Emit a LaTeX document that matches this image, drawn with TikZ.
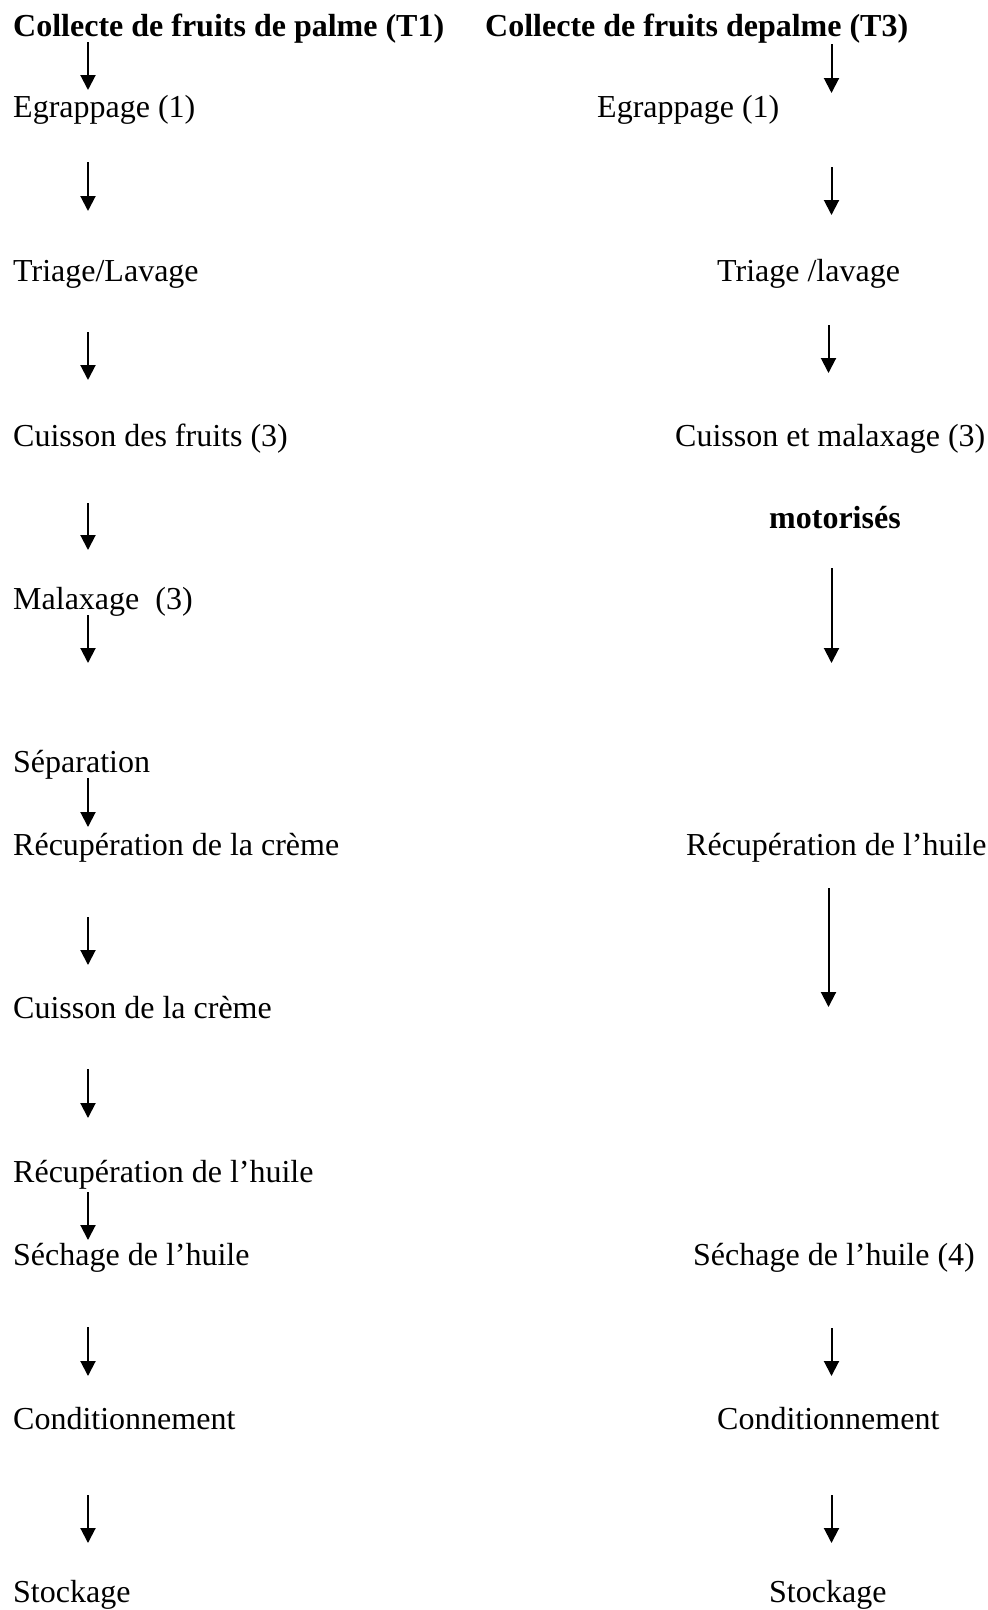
\documentclass[tikz,border=0pt]{standalone}
\usepackage{fontspec}
\setmainfont{Liberation Serif}
\usetikzlibrary{arrows.meta}
\tikzset{
  lbl/.style={anchor=base west, inner sep=0pt, font=\fontsize{32}{38}\selectfont},
  blbl/.style={lbl, font=\fontsize{32}{38}\selectfont\bfseries},
  flow/.style={line width=2pt, -{Triangle[length=15pt,width=15pt]}}
}
\begin{document}
\begin{tikzpicture}[x=1pt,y=-1pt]
\useasboundingbox (0,0) rectangle (988,1610);
% left column
\node[blbl] (t1)  at (13,36.5) {Collecte de fruits de palme (T1)};
\node[lbl]  (e1)  at (13,117)  {Egrappage (1)};
\node[lbl]  (tr1) at (13,281)  {Triage/Lavage};
\node[lbl]  (cu1) at (13,446)  {Cuisson des fruits (3)};
\node[lbl]  (ma1) at (13,609)  {Malaxage\ \ (3)};
\node[lbl]  (se1) at (13,772)  {Séparation};
\node[lbl]  (rc1) at (13,855)  {Récupération de la crème};
\node[lbl]  (cc1) at (13,1018) {Cuisson de la crème};
\node[lbl]  (rh1) at (13,1182) {Récupération de l’huile};
\node[lbl]  (sh1) at (13,1265) {Séchage de l’huile};
\node[lbl]  (co1) at (13,1429) {Conditionnement};
\node[lbl]  (st1) at (13,1602) {Stockage};
% right column
\node[blbl] (t3)  at (485,36.5) {Collecte de fruits depalme (T3)};
\node[lbl]  (e3)  at (597,117)  {Egrappage (1)};
\node[lbl]  (tr3) at (717,281)  {Triage /lavage};
\node[lbl]  (cu3) at (675,446)  {Cuisson et malaxage (3)};
\node[blbl] (mo3) at (769,528)  {motorisés};
\node[lbl]  (rh3) at (686,855)  {Récupération de l’huile};
\node[lbl]  (sh3) at (693,1265) {Séchage de l’huile (4)};
\node[lbl]  (co3) at (717,1429) {Conditionnement};
\node[lbl]  (st3) at (769,1602) {Stockage};
% left arrows
\foreach \i/\a/\b in {1/42/90, 2/162/211, 3/332/380, 4/503/550, 5/615/663, 6/778/827, 7/917/965, 8/1069/1118, 9/1192/1240, 10/1327/1376, 11/1495/1543}{
  \coordinate (la\i) at (88,\a);
  \coordinate (lb\i) at (88,\b);
  \draw[flow] (la\i) -- (lb\i);
}
% right arrows
\foreach \i/\x/\a/\b in {1/831.5/44/93, 2/831.5/167/215, 3/828.5/325/373, 4/831.5/568/663, 5/828.5/888/1007, 6/831.5/1328/1376, 7/831.5/1495/1543}{
  \coordinate (ra\i) at (\x,\a);
  \coordinate (rb\i) at (\x,\b);
  \draw[flow] (ra\i) -- (rb\i);
}
\end{tikzpicture}
\end{document}
